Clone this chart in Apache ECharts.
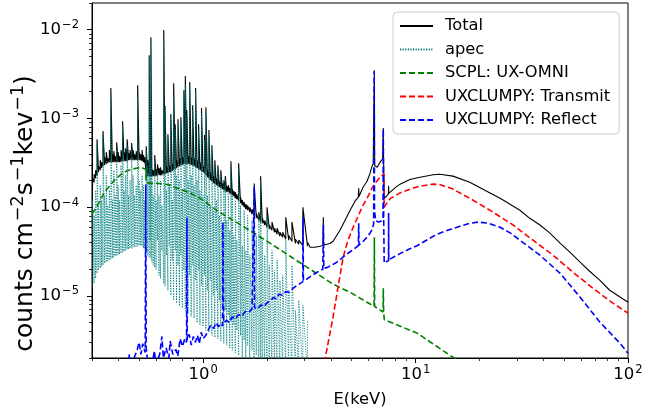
<!DOCTYPE html>
<html><head><meta charset="utf-8">
<script src="https://cdn.jsdelivr.net/npm/echarts@6/dist/echarts.min.js"></script>
<style>html,body{margin:0;padding:0;background:#fff}#c{width:670px;height:414px}</style>
</head><body><div id="c"></div>
<script>
// ---- data ----
const lineE = [0.302,0.307,0.312,0.317,0.322,0.328,0.333,0.338,0.344,0.350,
0.356,0.362,0.368,0.374,0.380,0.386,0.392,0.398,0.404,0.411,
0.418,0.425,0.432,0.439,0.446,0.453,0.461,0.468,0.476,0.484,
0.492,0.500,0.508,0.516,0.524,0.532,0.540,0.549,0.558,0.562,
0.568,0.574,0.583,0.592,0.601,0.610,0.620,0.630,0.640,0.653,
0.662,0.672,0.683,0.694,0.705,0.716,0.727,0.739,0.750,0.762,
0.774,0.786,0.799,0.812,0.825,0.838,0.851,0.865,0.879,0.893,
0.907,0.922,0.937,0.952,0.967,0.983,0.999,1.015,1.031,1.048,
1.065,1.082,1.100,1.118,1.136,1.155,1.174,1.193,1.212,1.232,
1.252,1.272,1.293,1.314,1.335,1.352,1.372,1.395,1.418,1.441,
1.47,1.50,1.53,1.56,1.59,1.62,1.66,1.70,1.74,1.78,
1.83,1.865,1.90,1.95,2.00,2.05,2.11,2.17,2.23,2.30,
2.37,2.45,2.53,2.62,2.72,2.82,2.95,3.10];

const apecLo = [1.25e-5,1.39e-5,1.58e-5,1.8e-5,1.95e-5,2.05e-5,2.16e-5,2.22e-5,2.34e-5,2.4e-5,
2.46e-5,2.53e-5,2.6e-5,2.66e-5,2.73e-5,2.8e-5,2.88e-5,2.88e-5,2.95e-5,3.03e-5,
3.1e-5,3.18e-5,3.27e-5,3.35e-5,3.35e-5,3.44e-5,3.44e-5,3.54e-5,3.54e-5,3.63e-5,
3.63e-5,3.7e-5,3.7e-5,3.63e-5,3.44e-5,3.27e-5,3.1e-5,2.88e-5,2.73e-5,4.25e-5,
2.66e-5,2.4e-5,2.22e-5,2.1e-5,2.0e-5,4.25e-5,1.71e-5,1.58e-5,3.27e-5,1.39e-5,
1.28e-5,2.88e-5,1.16e-5,3.7e-5,1.02e-5,2.53e-5,8.9e-6,3.27e-5,8.3e-6,2.22e-5,
7.7e-6,2.88e-5,7.3e-6,1.95e-5,6.75e-6,2.53e-5,6.4e-6,1.71e-5,5.9e-6,2.22e-5,
5.6e-6,1.5e-5,5.0e-6,1.95e-5,4.7e-6,1.32e-5,4.5e-6,1.71e-5,4.1e-6,1.16e-5,
3.9e-6,1.5e-5,3.6e-6,1.02e-5,3.4e-6,1.16e-5,3.3e-6,8.9e-6,3.1e-6,7.9e-6,
2.93e-6,6.9e-6,2.78e-6,6.1e-6,2.6e-6,5.3e-6,2.44e-6,4.7e-6,2.3e-6,4.1e-6,
2.15e-6,3.6e-6,1.9e-6,3.17e-6,1.5e-6,2.78e-6,1.3e-6,2.44e-6,1.3e-6,2.15e-6,
1.3e-6,1.3e-6,1.3e-6,1.3e-6,1.3e-6,1.3e-6,1.3e-6,1.3e-6,1.3e-6,1.3e-6,
1.3e-6,1.3e-6,1.3e-6,1.3e-6,1.3e-6,1.3e-6,1.3e-6,1.3e-6];

const apecHi = [1.2e-4,8.1e-5,1.55e-4,5.3e-4,1.05e-4,1.77e-4,1.2e-4,6.5e-4,1.36e-4,2.29e-4,
1.05e-4,1.55e-4,1.83e-3,1.2e-4,2.61e-4,1.36e-4,4.4e-4,1.77e-4,1.2e-4,2.97e-4,
8.4e-4,1.55e-4,2.29e-4,5.0e-4,1.36e-4,2.01e-4,4.4e-4,2.29e-4,1.36e-4,1.77e-4,
1.74e-3,2.01e-4,1.55e-4,2.29e-4,1.77e-4,1.2e-4,4.4e-4,2.97e-4,4.9e-3,9.6e-4,
7.6e-3,2.29e-4,1.36e-4,3.39e-4,1.2e-4,2.61e-4,1.36e-4,2.01e-4,1.05e-4,7.6e-3,
1.24e-3,1.55e-4,5.7e-4,1.77e-4,9.6e-4,1.2e-4,1.74e-3,7.4e-4,2.29e-4,8.4e-4,
2.01e-4,9.1e-4,1.55e-4,1.83e-3,2.37e-3,1.09e-3,2.01e-4,2.25e-3,2.29e-4,1.24e-3,
1.77e-4,1.98e-3,2.01e-4,7.4e-4,1.55e-4,1.15e-3,1.36e-4,5.7e-4,1.17e-3,1.36e-4,
6.5e-4,1.05e-4,4.4e-4,9.25e-5,2.97e-4,1.2e-4,2.61e-4,8.1e-5,2.29e-4,6.3e-5,
1.77e-4,2.01e-4,7.1e-5,1.55e-4,5.5e-5,2.97e-4,1.36e-4,4.8e-5,1.2e-4,4.25e-5,
2.75e-4,1.05e-4,3.7e-5,9.25e-5,3.27e-5,8.1e-5,2.88e-5,7.1e-5,1.2e-4,4.8e-5,
8.1e-5,2.01e-4,4.25e-5,2.88e-5,8.1e-5,2.22e-5,3.27e-5,1.95e-5,2.53e-5,1.5e-5,
1.71e-5,4.25e-5,1.16e-5,2.22e-5,6.9e-6,8.9e-6,7.9e-6,5.3e-6];

const totLo = [1.77e-4,1.91e-4,2.12e-4,2.29e-4,2.48e-4,2.61e-4,2.75e-4,2.9e-4,2.97e-4,3.05e-4,
3.13e-4,3.22e-4,3.22e-4,3.22e-4,3.22e-4,3.22e-4,3.22e-4,3.22e-4,3.22e-4,3.22e-4,
3.3e-4,3.3e-4,3.3e-4,3.3e-4,3.39e-4,3.39e-4,3.39e-4,3.39e-4,3.39e-4,3.39e-4,
3.39e-4,3.39e-4,3.39e-4,3.3e-4,3.22e-4,3.13e-4,2.24e-4,2.24e-4,2.24e-4,2.24e-4,
2.24e-4,2.24e-4,2.24e-4,2.24e-4,2.24e-4,2.29e-4,2.29e-4,2.29e-4,2.29e-4,2.35e-4,
2.35e-4,2.42e-4,2.42e-4,2.48e-4,2.48e-4,2.55e-4,2.61e-4,2.68e-4,2.75e-4,2.82e-4,
2.9e-4,2.97e-4,2.97e-4,3.05e-4,3.05e-4,3.05e-4,3.05e-4,3.05e-4,2.97e-4,2.97e-4,
2.9e-4,2.82e-4,2.75e-4,2.68e-4,2.61e-4,2.55e-4,2.48e-4,2.42e-4,2.29e-4,2.18e-4,
2.12e-4,2.01e-4,1.96e-4,1.86e-4,1.82e-4,1.77e-4,1.73e-4,1.68e-4,1.64e-4,1.6e-4,
1.55e-4,1.52e-4,1.48e-4,1.48e-4,1.44e-4,1.4e-4,1.36e-4,1.33e-4,1.26e-4,1.23e-4,
1.17e-4,1.11e-4,1.05e-4,1.0e-4,9.5e-5,9.25e-5,8.8e-5,8.34e-5,7.92e-5,7.52e-5,
7.1e-5,6.8e-5,6.6e-5,6.3e-5,5.95e-5,5.65e-5,5.5e-5,5.22e-5,4.96e-5,4.71e-5,
4.6e-5,4.36e-5,4.25e-5,4.14e-5,3.9e-5,3.83e-5,3.7e-5,3.63e-5];

const totHi = [2.12e-4,2.35e-4,2.61e-4,5.84e-4,2.9e-4,3.39e-4,3.22e-4,7.2e-4,3.66e-4,4.17e-4,
3.57e-4,4.4e-4,2.2e-3,3.96e-4,4.28e-4,3.76e-4,5.4e-4,4.17e-4,3.76e-4,4.4e-4,
9.3e-4,4.17e-4,4.62e-4,5.84e-4,4.06e-4,4.4e-4,5.3e-4,4.4e-4,3.96e-4,4.28e-4,
2.37e-3,4.17e-4,3.96e-4,4.4e-4,3.86e-4,3.66e-4,4.87e-4,3.39e-4,5.17e-3,1.09e-3,
8.25e-3,2.75e-4,2.61e-4,3.86e-4,2.68e-4,3.05e-4,2.75e-4,2.82e-4,2.61e-4,9.9e-3,
1.38e-3,2.9e-4,6.65e-4,2.97e-4,1.12e-3,3.05e-4,2.5e-3,8.6e-4,3.39e-4,9.8e-4,
3.57e-4,1.03e-3,3.66e-4,2.08e-3,3.0e-3,1.24e-3,3.76e-4,2.57e-3,3.66e-4,1.41e-3,
3.57e-4,2.2e-3,3.39e-4,8.6e-4,3.22e-4,1.31e-3,2.97e-4,6.5e-4,1.34e-3,2.61e-4,
7.4e-4,2.42e-4,5.0e-4,2.24e-4,3.39e-4,2.12e-4,2.97e-4,1.96e-4,2.61e-4,1.86e-4,
2.01e-4,2.24e-4,1.73e-4,1.77e-4,1.64e-4,3.3e-4,1.6e-4,1.52e-4,1.48e-4,1.4e-4,
3.13e-4,1.3e-4,1.2e-4,1.14e-4,1.08e-4,1.05e-4,1.0e-4,9.5e-5,1.85e-4,8.56e-5,
8.8e-5,2.24e-4,7.52e-5,7.1e-5,1.0e-4,6.3e-5,6.8e-5,5.8e-5,5.8e-5,5.22e-5,
5.22e-5,7.7e-5,4.8e-5,6.8e-5,4.36e-5,4.25e-5,1.0e-4,4.03e-5];

const totContE = [3.19,3.36,3.55,3.665,3.68,3.695,3.96,4.09,4.41,4.92,5.19,5.38,5.40,5.42,5.66,5.91,6.11,6.24,6.32,6.38,6.40,6.42,6.6,6.8,7.0,7.04,7.05,7.07,7.11,7.12,7.3,7.46,7.47,7.48,7.6,8.0,8.45,9.4,10.5,12.1,13.0,15.0,18.0,21.2,25,31,34.5,38.5,42.9,47.9,53.4,59.5,66,73.8,82,100];
const totContV = [3.54e-5,3.54e-5,3.63e-5,3.7e-5,7.7e-5,3.75e-5,3.9e-5,4.14e-5,5.5e-5,9.25e-5,1.17e-4,1.3e-4,1.64e-4,1.32e-4,1.68e-4,1.96e-4,2.42e-4,2.9e-4,3.1e-4,2.95e-4,3.5e-3,2.95e-4,2.82e-4,3.2e-4,3.5e-4,3.55e-4,7.8e-4,3.6e-4,3.6e-4,1.26e-4,1.33e-4,1.42e-4,1.75e-4,1.43e-4,1.5e-4,1.65e-4,1.82e-4,2.05e-4,2.18e-4,2.32e-4,2.35e-4,2.24e-4,1.91e-4,1.55e-4,1.26e-4,9.25e-5,7.5e-5,6.3e-5,5.1e-5,3.93e-5,3.1e-5,2.4e-5,1.9e-5,1.5e-5,1.16e-5,8.5e-6];

const scplE = [0.30,0.315,0.328,0.345,0.365,0.385,0.407,0.435,0.468,0.50,0.522,0.537,0.539,0.56,0.62,0.70,0.72,0.78,0.87,0.968,1.16,1.49,2.0,2.57,3.19,4.09,4.92,5.91,6.24,6.38,6.40,6.42,7.03,7.05,7.08,7.11,7.13,7.42,10.2,14.5,17];
const scplV = [8.4e-5,1.0e-4,1.2e-4,1.5e-4,1.77e-4,2.05e-4,2.3e-4,2.55e-4,2.7e-4,2.78e-4,2.75e-4,2.68e-4,1.9e-4,1.87e-4,1.85e-4,1.78e-4,1.7e-4,1.6e-4,1.44e-4,1.26e-4,9.2e-5,6.4e-5,4.14e-5,2.8e-5,2.0e-5,1.36e-5,1.1e-5,8.5e-6,7.9e-6,7.7e-6,4.6e-5,7.6e-6,6.6e-6,1.22e-5,6.5e-6,6.4e-6,5.4e-6,5.2e-6,3.8e-6,2.15e-6,1.7e-6];

const transE = [3.70,3.80,4.09,4.35,4.56,4.80,5.08,5.40,5.66,6.0,6.24,6.5,6.81,7.10,7.11,7.4,7.6,8.45,10.2,12.1,13.0,15.0,18.65,23.15,28.8,35.7,44.4,55.1,68.5,82,100];
const transV = [1.4e-6,2.3e-6,5.8e-6,1.4e-5,2.7e-5,4.2e-5,5.9e-5,8.2e-5,1.05e-4,1.35e-4,1.64e-4,1.9e-4,2.18e-4,2.38e-4,1.0e-4,1.15e-4,1.25e-4,1.45e-4,1.7e-4,1.82e-4,1.8e-4,1.6e-4,1.2e-4,8.8e-5,6.3e-5,4.25e-5,2.88e-5,1.85e-5,1.22e-5,8.8e-6,6.4e-6];

const reflE = [0.44,0.45,0.46,0.47,0.49,0.50,0.51,0.52,0.534,0.537,0.54,0.55,0.57,0.59,0.60,0.625,0.64,0.65,0.67,0.69,0.70,0.72,0.745,0.76,0.78,0.80,0.82,0.836,0.839,0.842,0.86,0.88,0.90,0.92,0.94,0.96,0.98,1.00,1.03,1.06,1.09,1.12,1.15,1.18,1.21,1.235,1.24,1.25,1.29,1.33,1.37,1.42,1.47,1.52,1.58,1.64,1.70,1.735,1.74,1.745,1.80,1.87,1.94,2.0,2.07,2.14,2.21,2.28,2.36,2.45,2.55,2.65,2.75,2.86,2.945,2.955,2.965,3.05,3.19,3.35,3.5,3.66,3.685,3.70,3.85,4.0,4.2,4.4,4.65,4.92,5.15,5.38,5.40,5.42,5.66,5.91,6.1,6.25,6.35,6.39,6.41,6.5,6.7,6.9,7.03,7.05,7.08,7.11,7.12,7.3,7.46,7.47,7.48,8.0,8.45,9.4,10.2,12.1,13.0,14.5,16.2,18.0,19.7,22,25,28,31,38.5,47.9,59.5,73.8,91.7,100];
const reflV = [1.5e-6,2.2e-6,1.6e-6,1.9e-6,2.5e-6,3.0e-6,2.2e-6,2.9e-6,2.3e-6,1.8e-4,2.6e-6,1.7e-6,1.5e-6,2.4e-6,1.7e-6,2.2e-6,3.5e-6,2.0e-6,2.6e-6,2.0e-6,3.1e-6,2.2e-6,2.5e-6,2.1e-6,3.3e-6,2.7e-6,3.3e-6,3.0e-6,7.6e-5,3.2e-6,3.7e-6,2.8e-6,3.5e-6,3.0e-6,3.6e-6,2.9e-6,3.9e-6,3.3e-6,3.6e-6,4.2e-6,4.7e-6,4.3e-6,5.0e-6,4.5e-6,4.9e-6,4.6e-6,6.8e-5,5.0e-6,5.3e-6,5.0e-6,5.8e-6,5.5e-6,6.2e-6,5.9e-6,6.7e-6,6.5e-6,7.2e-6,7.0e-6,1.7e-4,7.4e-6,7.1e-6,7.9e-6,7.6e-6,8.4e-6,8.8e-6,9.6e-6,9.3e-6,1.05e-5,1.02e-5,1.12e-5,1.1e-5,1.22e-5,1.3e-5,1.38e-5,1.45e-5,7.7e-5,1.5e-5,1.52e-5,1.65e-5,1.78e-5,1.9e-5,2.0e-5,6.3e-5,2.05e-5,2.1e-5,2.2e-5,2.35e-5,2.55e-5,2.85e-5,3.15e-5,3.4e-5,3.7e-5,6.6e-5,3.75e-5,4.1e-5,4.6e-5,5.1e-5,5.6e-5,6.5e-5,3.4e-3,9.0e-5,7.0e-5,6.8e-5,7.0e-5,7.5e-5,7.6e-4,7.5e-5,7.5e-5,2.35e-5,2.45e-5,2.5e-5,8.6e-5,2.55e-5,2.8e-5,3.0e-5,3.4e-5,3.7e-5,4.7e-5,5.1e-5,5.6e-5,6.1e-5,6.6e-5,6.8e-5,6.6e-5,5.95e-5,5.1e-5,4.25e-5,2.88e-5,1.8e-5,9.7e-6,5.05e-6,2.93e-6,2.26e-6];

const xMajor = [1, 10, 100];
const xMinor = [0.3,0.4,0.5,0.6,0.7,0.8,0.9,2,3,4,5,6,7,8,9,20,30,40,50,60,70,80,90];
const yMajor = [1e-5, 1e-4, 1e-3, 1e-2];
const yMinor = [2e-6,3e-6,4e-6,5e-6,6e-6,7e-6,8e-6,9e-6,2e-5,3e-5,4e-5,5e-5,6e-5,7e-5,8e-5,9e-5,2e-4,3e-4,4e-4,5e-4,6e-4,7e-4,8e-4,9e-4,2e-3,3e-3,4e-3,5e-3,6e-3,7e-3,8e-3,9e-3,2e-2];

// ---- build series data from the arrays ----
const zip = (xs, ys) => xs.map((x, i) => [x, ys[i]]);
const apecData = [];
lineE.forEach((e, i) => { apecData.push([e, apecLo[i]], [e, apecHi[i]]); });
const totalData = [];
lineE.forEach((e, i) => { totalData.push([e, totLo[i]], [e, totHi[i]]); });
zip(totContE, totContV).forEach(p => totalData.push(p));

const FONT = 'DejaVu Sans';
const supLabel = v => {
  const e = Math.round(Math.log10(v));
  return '{b|10}{s|' + (e < 0 ? '\u2212' + (-e) : String(e)) + '}';
};
const labelRich = {
  b: { fontSize: 16.5, fontFamily: FONT, color: '#000', verticalAlign: 'middle', lineHeight: 20 },
  s: { fontSize: 11.5, fontFamily: FONT, color: '#000', verticalAlign: 'middle', lineHeight: 12, padding: [0, 0, 9, 1] }
};

const chart = echarts.init(document.getElementById('c'), null, { renderer: 'canvas' });
chart.setOption({
  animation: false,
  backgroundColor: '#fff',
  textStyle: { fontFamily: FONT },
  grid: { left: 92, right: 42, top: 3, bottom: 56, outerBoundsMode: 'none', containLabel: false,
          show: true, borderColor: '#000', borderWidth: 1, backgroundColor: 'transparent' },
  legend: {
    orient: 'vertical', left: 393, top: 12,
    padding: [6, 9, 6, 6],
    itemWidth: 33, itemHeight: 14, itemGap: 7.5,
    itemStyle: { opacity: 0, borderWidth: 0 },
    backgroundColor: 'rgba(255,255,255,0.8)', borderColor: '#cccccc', borderWidth: 1, borderRadius: 4,
    textStyle: { fontFamily: FONT, fontSize: 16.3, color: '#000', padding: [0, 0, 0, 7] },
    data: ['Total', 'apec', 'SCPL: UX-OMNI', 'UXCLUMPY: Transmit', 'UXCLUMPY: Reflect']
  },
  xAxis: [{
    type: 'log', logBase: 10, min: 0.3, max: 100,
    name: 'E(keV)', nameLocation: 'middle', nameGap: 34, nameMoveOverlap: false,
    nameTextStyle: { fontFamily: FONT, fontSize: 16.3, color: '#000' },
    axisLine: { show: true, lineStyle: { color: '#000', width: 1 } },
    axisTick: { show: true, inside: false, length: 5, customValues: xMajor, lineStyle: { color: '#000', width: 1 } },
    axisLabel: { show: true, margin: 7, customValues: xMajor, formatter: supLabel, rich: labelRich },
    splitLine: { show: false }, minorTick: { show: false }
  }, {
    type: 'log', logBase: 10, min: 0.3, max: 100, position: 'bottom',
    axisLine: { show: false },
    axisTick: { show: true, inside: false, length: 3, customValues: xMinor, lineStyle: { color: '#000', width: 0.8 } },
    axisLabel: { show: false }, splitLine: { show: false }
  }],
  yAxis: [{
    type: 'log', logBase: 10, min: 2e-6, max: 2e-2,
    name: 'counts cm{s|\u22122}s{s|\u22121}kev{s|\u22121})', nameLocation: 'middle', nameGap: 51, nameRotate: 90,
    nameMoveOverlap: false,
    nameTextStyle: {
      fontFamily: FONT, fontSize: 25, color: '#000', lineHeight: 32, padding: [0, 66, 0, 0],
      rich: { s: { fontFamily: FONT, fontSize: 17.5, color: '#000', lineHeight: 18, padding: [0, 0, 14, 1], verticalAlign: 'middle' } }
    },
    axisLine: { show: true, lineStyle: { color: '#000', width: 1 } },
    axisTick: { show: true, inside: false, length: 5, customValues: yMajor, lineStyle: { color: '#000', width: 1 } },
    axisLabel: { show: true, margin: 13, customValues: yMajor, formatter: supLabel, rich: labelRich },
    splitLine: { show: false }
  }, {
    type: 'log', logBase: 10, min: 2e-6, max: 2e-2, position: 'left',
    axisLine: { show: false },
    axisTick: { show: true, inside: false, length: 3, customValues: yMinor, lineStyle: { color: '#000', width: 0.8 } },
    axisLabel: { show: false }, splitLine: { show: false }
  }],
  series: [
    { name: 'Total', type: 'line', data: totalData, showSymbol: false, symbol: 'none', clip: true,
      lineStyle: { color: '#000000', width: 1.1, type: 'solid' }, itemStyle: { color: '#000000' } },
    { name: 'apec', type: 'line', data: apecData, showSymbol: false, symbol: 'none', clip: true,
      lineStyle: { color: '#008080', width: 0.9, type: [1.2, 1.4] }, itemStyle: { color: '#008080' } },
    { name: 'SCPL: UX-OMNI', type: 'line', data: zip(scplE, scplV), showSymbol: false, symbol: 'none', clip: true,
      lineStyle: { color: '#008000', width: 1.6, type: [6, 3] }, itemStyle: { color: '#008000' } },
    { name: 'UXCLUMPY: Transmit', type: 'line', data: zip(transE, transV), showSymbol: false, symbol: 'none', clip: true,
      lineStyle: { color: '#ff0000', width: 1.6, type: [6, 3] }, itemStyle: { color: '#ff0000' } },
    { name: 'UXCLUMPY: Reflect', type: 'line', data: zip(reflE, reflV), showSymbol: false, symbol: 'none', clip: true,
      lineStyle: { color: '#0000ff', width: 1.6, type: [6, 3] }, itemStyle: { color: '#0000ff' } }
  ]
});
</script>
</body></html>
